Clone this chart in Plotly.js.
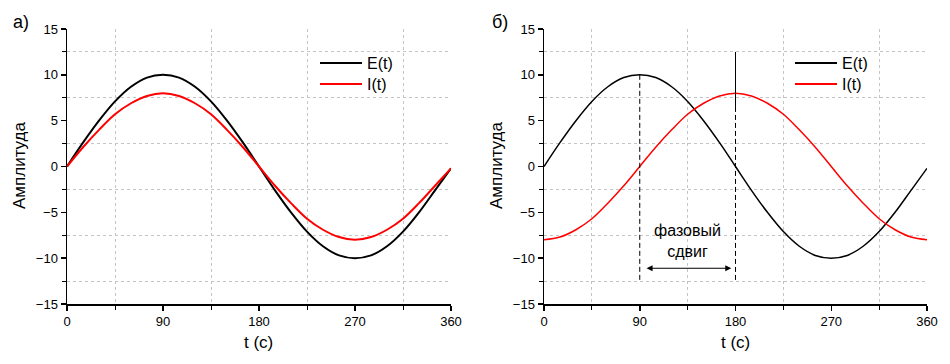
<!DOCTYPE html>
<html>
<head>
<meta charset="utf-8">
<script src="https://cdn.plot.ly/plotly-3.0.1.min.js"></script>
<style>html,body{margin:0;padding:0;background:#fff;}#chart{width:950px;height:364px;}</style>
</head>
<body>
<div id="chart"></div>
<script>
// Data (t in degrees, step 15)
var t = [0,15,30,45,60,75,90,105,120,135,150,165,180,195,210,225,240,255,270,285,300,315,330,345,360];
var eA = [0,2.6,5,7.1,8.7,9.7,10,9.7,8.7,7.1,5,2.6,0,-2.6,-5,-7.1,-8.7,-9.7,-10,-9.7,-8.7,-7.1,-5,-2.6,-0.2];
var iA = [0,2.1,4,5.7,6.9,7.7,8,7.7,6.9,5.7,4,2.1,0,-2.1,-4,-5.7,-6.9,-7.7,-8,-7.7,-6.9,-5.7,-4,-2.1,-0.2];
var eB = [0,2.6,5,7.1,8.7,9.7,10,9.7,8.7,7.1,5,2.6,0,-2.6,-5,-7.1,-8.7,-9.7,-10,-9.7,-8.7,-7.1,-5,-2.6,-0.2];
var iB = [-8,-7.7,-6.9,-5.7,-4,-2.1,0,2.1,4,5.7,6.9,7.7,8,7.7,6.9,5.7,4,2.1,0,-2.1,-4,-5.7,-6.9,-7.7,-8];
var seriesNames = ["E(t)", "I(t)"];
var panelLabels = ["а)", "б)"];
var xRange = [0, 360], xStep = 90;
var yRange = [-15, 15], yStep = 5;
var phaseStart = 90, phaseEnd = 180;
var phaseText = "фазовый<br>сдвиг";
var xTitle = "t (с)", yTitle = "Амплитуда";

var FONT = "Arial, 'Liberation Sans', sans-serif";
function trace(x, y, name, color, xa, ya, w) {
  return {x: x, y: y, name: name, type: 'scatter', mode: 'lines',
    line: {color: color, width: w, shape: 'spline', smoothing: 1},
    xaxis: xa, yaxis: ya, showlegend: false};
}
var data = [
  trace(t, eA, seriesNames[0], '#000000', 'x', 'y', 2),
  trace(t, iA, seriesNames[1], '#ff0000', 'x', 'y', 2),
  trace(t, eB, seriesNames[0], '#000000', 'x2', 'y2', 1.5),
  trace(t, iB, seriesNames[1], '#ff0000', 'x2', 'y2', 1.5)
];

function axis(dom, anchor, range, step) {
  return {domain: dom, anchor: anchor, range: range, tickmode: 'linear', tick0: range[0], dtick: step,
    showline: true, linecolor: '#000', linewidth: 1.5, ticks: 'outside', ticklen: 5, tickwidth: 1.5, tickcolor: '#000',
    showgrid: false, zeroline: false, tickfont: {family: FONT, size: 13, color: '#000'},
    minor: {dtick: step / 2, ticks: 'outside', ticklen: 4, tickcolor: '#000', tickwidth: 1,
      showgrid: true, gridcolor: '#c4c4c4', griddash: 'dot', gridwidth: 1}};
}
var yDom = [1 - 304/364, 1 - 29/364];
var layout = {
  width: 950, height: 364, margin: {l: 0, r: 0, t: 0, b: 0},
  paper_bgcolor: '#fff', plot_bgcolor: 'rgba(0,0,0,0)', showlegend: false,
  xaxis: axis([67/950, 451/950], 'y', xRange, xStep),
  yaxis: axis(yDom, 'x', yRange, yStep),
  xaxis2: axis([544/950, 927/950], 'y2', xRange, xStep),
  yaxis2: axis(yDom, 'x2', yRange, yStep),
  shapes: [], annotations: []
};
// Legends (drawn per panel)
[320, 795].forEach(function (x0) {
  [['#000000', 63, seriesNames[0]], ['#ff0000', 84, seriesNames[1]]].forEach(function (s) {
    layout.shapes.push({type: 'line', xref: 'paper', yref: 'paper', x0: x0/950, x1: (x0+42)/950,
      y0: 1 - s[1]/364, y1: 1 - s[1]/364, line: {color: s[0], width: 2}});
    layout.annotations.push({xref: 'paper', yref: 'paper', x: (x0+45)/950, y: 1 - s[1]/364,
      xanchor: 'left', yanchor: 'middle', showarrow: false, text: s[2],
      font: {family: FONT, size: 16, color: '#000'}});
  });
});
// Panel labels & axis titles
[[21, 258, 20], [500, 735, 497]].forEach(function (p, i) {
  layout.annotations.push({xref: 'paper', yref: 'paper', x: p[0]/950, y: 1 - 22/364, xanchor: 'center', yanchor: 'middle',
    showarrow: false, text: panelLabels[i], font: {family: FONT, size: 18, color: '#000'}});
  layout.annotations.push({xref: 'paper', yref: 'paper', x: p[1]/950, y: 1 - 342/364, xanchor: 'center', yanchor: 'middle',
    showarrow: false, text: xTitle, font: {family: FONT, size: 17, color: '#000'}});
  layout.annotations.push({xref: 'paper', yref: 'paper', x: p[2]/950, y: 1 - 166/364, xanchor: 'center', yanchor: 'middle',
    textangle: -90, showarrow: false, text: yTitle, font: {family: FONT, size: 17, color: '#000'}});
});
// Phase shift markers on panel б
layout.shapes.push({type: 'line', xref: 'x2', yref: 'y2', x0: phaseStart, x1: phaseStart, y0: 10, y1: -12.5,
  line: {color: '#000', width: 1, dash: '5px,3px'}});
layout.shapes.push({type: 'line', xref: 'x2', yref: 'y2', x0: phaseEnd, x1: phaseEnd, y0: 12.5, y1: 6.5,
  line: {color: '#000', width: 1}});
layout.shapes.push({type: 'line', xref: 'x2', yref: 'y2', x0: phaseEnd, x1: phaseEnd, y0: 6.5, y1: -12.5,
  line: {color: '#000', width: 1, dash: '5px,3px'}});
layout.annotations.push({xref: 'x2', yref: 'y2', x: phaseEnd - 4, y: -11.1, axref: 'x2', ayref: 'y2',
  ax: phaseStart + 5, ay: -11.1, text: '', showarrow: true, arrowhead: 2, startarrowhead: 2,
  arrowside: 'end+start', arrowsize: 1, arrowwidth: 1.2, arrowcolor: '#000'});
layout.annotations.push({xref: 'x2', yref: 'y2', x: (phaseStart + phaseEnd) / 2, y: -8.1, xanchor: 'center', yanchor: 'middle',
  showarrow: false, text: phaseText, font: {family: FONT, size: 16, color: '#000'}});

Plotly.newPlot('chart', data, layout, {staticPlot: true, displayModeBar: false});
</script>
</body>
</html>
